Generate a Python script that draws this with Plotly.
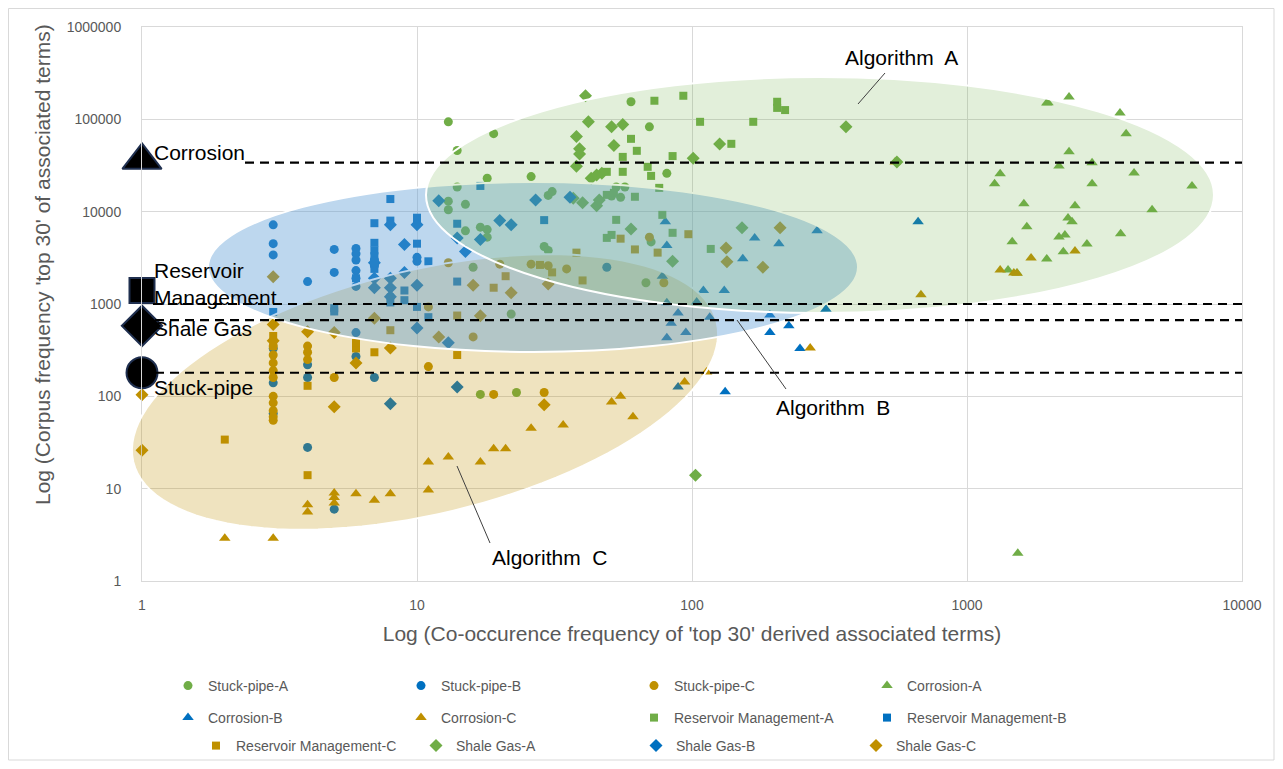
import numpy as np
import plotly.graph_objects as go

# ---------------- data ----------------
SP_A_x = [13, 19, 14, 18, 26, 14, 13, 13, 15, 15, 17, 18, 18, 30, 31, 29, 30, 16, 60, 70, 53, 57, 51, 55, 81, 71, 68, 22, 17, 23]
SP_A_y = [94000, 70000, 46000, 23000, 24000, 18500, 13000, 10500, 12000, 6200, 6800, 6400, 5300, 15000, 16500, 4200, 3800, 2500, 155000, 83000, 18500, 18500, 14800, 14300, 26000, 4700, 1700, 780, 105, 110]

SP_B_x = [3, 3, 3, 4, 5, 5, 6, 6, 6, 6, 6, 6, 7, 7, 10, 3, 3, 4, 4, 4, 5, 6, 6, 7, 49, 10, 8, 3]
SP_B_y = [7200, 4500, 3400, 1750, 3900, 2200, 4000, 3500, 3000, 2300, 1900, 1550, 3000, 2600, 2900, 140, 65, 220, 160, 28, 6, 270, 490, 160, 2500, 3200, 1200, 330]

SP_C_x = [70, 79, 13, 20, 26, 30, 35, 11, 16, 11, 19, 29, 5, 3, 3, 3, 3, 3, 3, 3, 3, 3, 3, 4, 4, 4]
SP_C_y = [5300, 1700, 2800, 2700, 2700, 2600, 2400, 930, 440, 210, 105, 110, 160, 350, 280, 230, 190, 160, 100, 85, 70, 60, 55, 350, 300, 250]

CO_A_x = [1970, 1950, 2350, 3600, 3790, 2350, 2160, 2850, 1320, 1260, 4050, 2850, 6580, 1610, 2470, 4710, 2330, 2410, 1650, 3620, 1460, 2160, 2270, 2730, 2240, 1950, 1410, 1520, 1530]
CO_A_y = [151000, 150000, 175000, 117000, 70000, 44500, 31300, 33800, 25700, 20000, 26300, 20000, 19000, 12200, 11600, 10500, 8550, 7760, 6850, 5750, 4710, 5330, 5600, 4470, 3670, 3080, 2340, 2170, 2]

CO_B_x = [664, 80, 81, 169, 207, 285, 153, 110, 131, 78, 81, 89, 104, 84, 81, 95, 116, 192, 225, 192, 247, 307, 89, 132]
CO_B_y = [7800, 7800, 4300, 5200, 4500, 6200, 3100, 1400, 1400, 2000, 1030, 800, 1050, 620, 430, 490, 720, 760, 580, 490, 330, 880, 126, 112]

CO_C_x = [548, 680, 1710, 2470, 1320, 1480, 1520, 269, 113, 94, 55, 51, 61, 26, 34, 19, 21, 17, 13, 11, 11, 8, 7, 6, 5, 5, 5, 4, 4, 2, 3]
CO_C_y = [34600, 1260, 3150, 3760, 2340, 2170, 2150, 334, 184, 143, 100, 87, 60, 45, 49, 27, 27, 19.5, 22, 19.5, 9.7, 8.8, 7.5, 8.8, 9, 8, 7, 6.7, 5.6, 2.9, 2.9]

RM_A_x = [73, 93, 107, 167, 204, 204, 218, 139, 60, 63, 56, 85, 69, 71, 56, 49, 76, 62, 49, 52, 53, 78, 85, 49, 51, 117]
RM_A_y = [159000, 180000, 94000, 94000, 155000, 133000, 126000, 54300, 61500, 45600, 39200, 40000, 30600, 24400, 27000, 27000, 18100, 14500, 15200, 16000, 8150, 9230, 5900, 5200, 5600, 3950]

RM_B_x = [8, 17, 10, 14, 10, 11, 29, 7, 7, 7, 7, 7, 7, 10, 6, 9, 9, 8, 5, 10, 11, 14, 3, 5, 8]
RM_B_y = [13700, 19000, 8600, 7400, 4500, 2900, 8100, 7500, 4600, 3800, 3300, 2800, 2400, 8000, 1900, 1400, 1100, 1040, 900, 930, 720, 1750, 820, 830, 8000]

RM_C_x = [38, 55, 62, 75, 97, 28, 31, 21, 19, 40, 14, 14, 6, 7, 4, 2, 4, 8, 6, 3, 3]
RM_C_y = [3600, 5100, 3900, 3600, 5700, 2650, 2200, 2000, 1500, 1800, 750, 280, 330, 300, 130, 34, 14, 520, 380, 450, 350]

SG_A_x = [41, 42, 51, 56, 38, 52, 39, 39, 38, 126, 101, 43, 47, 45, 40, 37, 45, 46, 60, 85, 152, 556, 363, 103]
SG_A_y = [180000, 94000, 83000, 88000, 65000, 52000, 48000, 42000, 31000, 54000, 38000, 23000, 26000, 25000, 12500, 14000, 11600, 13400, 6500, 2900, 6700, 34600, 83000, 14]

SG_B_x = [12, 8, 10, 9, 14, 17, 20, 22, 27, 36, 15, 7, 7, 8, 8, 10, 10, 8, 14, 13, 8, 7, 9]
SG_B_y = [13100, 7200, 7200, 4400, 5200, 5000, 8000, 7200, 13400, 14300, 3700, 1900, 1500, 1900, 1500, 1600, 550, 1200, 126, 380, 83, 2800, 2200]

SG_C_x = [133, 134, 16, 22, 30, 209, 181, 17, 12, 29, 3, 4, 5, 8, 5, 6, 1, 1, 3, 3, 7]
SG_C_y = [4050, 2860, 1600, 1320, 1650, 6700, 2500, 745, 440, 81, 1970, 500, 490, 334, 77, 230, 104, 26, 600, 400, 700]

# topic reference markers and reference lines (corpus frequency of topic terms)
TOPICS = ["Corrosion", "Reservoir Management", "Shale Gas", "Stuck-pipe"]
TOPIC_MARK_Y = [36000, 1400, 580, 180]
REF_LINE_Y = [34000, 1000, 670, 180]

X_TICKS = [1, 10, 100, 1000, 10000]
Y_TICKS = [1, 10, 100, 1000, 10000, 100000, 1000000]

# ---------------- style ----------------
GREEN = "#70AD47"
BLUE = "#0070C0"
GOLD = "#BF9000"
GRID = "#d9d9d9"
TXT = "#595959"
FONT = "Liberation Sans, Arial, sans-serif"

series = [
    ("Stuck-pipe-A", SP_A_x, SP_A_y, "circle", GREEN, "legend"),
    ("Stuck-pipe-B", SP_B_x, SP_B_y, "circle", BLUE, "legend"),
    ("Stuck-pipe-C", SP_C_x, SP_C_y, "circle", GOLD, "legend"),
    ("Corrosion-A", CO_A_x, CO_A_y, "triangle-up", GREEN, "legend"),
    ("Corrosion-B", CO_B_x, CO_B_y, "triangle-up", BLUE, "legend2"),
    ("Corrosion-C", CO_C_x, CO_C_y, "triangle-up", GOLD, "legend2"),
    ("Reservoir Management-A", RM_A_x, RM_A_y, "square", GREEN, "legend2"),
    ("Reservoir Management-B", RM_B_x, RM_B_y, "square", BLUE, "legend2"),
    ("Reservoir Management-C", RM_C_x, RM_C_y, "square", GOLD, "legend3"),
    ("Shale Gas-A", SG_A_x, SG_A_y, "diamond", GREEN, "legend3"),
    ("Shale Gas-B", SG_B_x, SG_B_y, "diamond", BLUE, "legend3"),
    ("Shale Gas-C", SG_C_x, SG_C_y, "diamond", GOLD, "legend3"),
]
SIZES = {"circle": 9, "triangle-up": 10, "square": 8, "diamond": 10}

fig = go.Figure()
for name, xs, ys, sym, col, leg in series:
    fig.add_trace(go.Scatter(
        x=xs, y=ys, mode="markers", name=name, legend=leg,
        marker=dict(symbol=sym, size=SIZES[sym], color=col, opacity=1, line=dict(width=0)),
        cliponaxis=False,
    ))

# big topic markers at x = 1
big_syms = ["triangle-up", "square", "diamond", "circle"]
big_sizes = [34, 25, 31, 31]
fig.add_trace(go.Scatter(
    x=[1] * len(TOPICS), y=TOPIC_MARK_Y, mode="markers", showlegend=False,
    marker=dict(symbol=big_syms, size=big_sizes, color="black", opacity=1,
                line=dict(width=2, color="#1f2f4f")),
    cliponaxis=False, hoverinfo="skip",
))

# ---------------- geometry helpers (page pixel -> paper) ----------------
OFF = 8                      # default page body margin
FW, FH = 1283 - 2 * OFF, 769 - 2 * OFF
PL, PR, PT, PB = 142, 1242, 27, 581   # plot area in page pixels
PW, PH = PR - PL, PB - PT


def px(xp):
    return (xp - PL) / PW


def py(yp):
    return (PB - yp) / PH


shapes = []

# Algorithm C: tilted ellipse (drawn first, lowest)
cx, cy, a, b, ang = 425, 392, 300, 122, np.deg2rad(13.5)
t = np.linspace(0, 2 * np.pi, 121)
ux, uy = np.cos(ang), -np.sin(ang)
nx, ny = np.sin(ang), np.cos(ang)
X = cx + a * np.cos(t) * ux + b * np.sin(t) * nx
Y = cy + a * np.cos(t) * uy + b * np.sin(t) * ny
path = "M " + " L ".join(f"{px(xx):.5f},{py(yy):.5f}" for xx, yy in zip(X, Y)) + " Z"
shapes.append(dict(type="path", path=path, xref="paper", yref="paper", layer="above",
                   fillcolor="rgba(191,144,0,0.25)", line=dict(color="white", width=2)))

# Algorithm B
shapes.append(dict(type="circle", xref="paper", yref="paper", layer="above",
                   x0=px(208), x1=px(858), y0=py(352), y1=py(182),
                   fillcolor="rgba(91,155,213,0.4)", line=dict(color="white", width=2)))
# Algorithm A
shapes.append(dict(type="circle", xref="paper", yref="paper", layer="above",
                   x0=px(426), x1=px(1214), y0=py(313), y1=py(77),
                   fillcolor="rgba(112,173,71,0.2)", line=dict(color="white", width=2)))

# dashed reference lines
line_starts = [245, 153, 155, 155]
for yv, xs0 in zip(REF_LINE_Y, line_starts):
    shapes.append(dict(type="line", xref="paper", yref="y", layer="above",
                       x0=px(xs0), x1=1, y0=yv, y1=yv,
                       line=dict(color="black", width=2.2, dash="9px,6px")))

# leader lines
for (x0, y0, x1, y1) in [(885, 73, 858, 104), (737, 320, 786, 389), (457, 466, 490, 543)]:
    shapes.append(dict(type="line", xref="paper", yref="paper", layer="above",
                       x0=px(x0), y0=py(y0), x1=px(x1), y1=py(y1),
                       line=dict(color="#404040", width=1)))

# outer chart border
shapes.append(dict(type="rect", xref="paper", yref="paper", layer="below",
                   x0=px(8.5), x1=px(1274), y0=py(760), y1=py(8.5),
                   line=dict(color=GRID, width=1), fillcolor="rgba(0,0,0,0)"))

annotations = []


def label(text, xl, yc, size=21, color="black"):
    annotations.append(dict(text=text, x=px(xl), y=py(yc), xref="paper", yref="paper",
                            xanchor="left", yanchor="middle", showarrow=False,
                            font=dict(family=FONT, size=size, color=color), align="left"))


label(TOPICS[0], 152, 152)
label("Reservoir<br>Management", 152, 284)
label(TOPICS[2], 152, 328)
label(TOPICS[3], 152, 387)
label("Algorithm\u00a0 A", 843, 57)
label("Algorithm\u00a0 B", 774, 407)
label("Algorithm\u00a0 C", 490, 557)

annotations.append(dict(text="Log (Corpus frequency 'top 30' of associated terms)",
                        x=px(42), y=py(265), xref="paper", yref="paper",
                        xanchor="center", yanchor="middle", textangle=-90, showarrow=False,
                        font=dict(family=FONT, size=21, color=TXT)))

leg_common = dict(orientation="h", xanchor="left", yanchor="middle", entrywidthmode="pixels",
                  font=dict(family=FONT, size=14, color=TXT), bgcolor="rgba(0,0,0,0)",
                  itemwidth=30, traceorder="normal")

fig.update_layout(
    width=FW, height=FH,
    margin=dict(l=PL - OFF, r=FW - (PR - OFF), t=PT - OFF, b=FH - (PB - OFF), autoexpand=False),
    paper_bgcolor="white", plot_bgcolor="white",
    font=dict(family=FONT, color=TXT),
    shapes=shapes, annotations=annotations,
    showlegend=True,
    legend=dict(leg_common, x=px(168), y=py(686), entrywidth=188),
    legend2=dict(leg_common, x=px(168), y=py(718), entrywidth=188),
    legend3=dict(leg_common, x=px(196), y=py(746), entrywidth=175),
    xaxis=dict(type="log", range=[0, 4], tickvals=X_TICKS, ticktext=[str(v) for v in X_TICKS],
               showgrid=True, gridcolor=GRID, gridwidth=1, zeroline=False,
               showline=True, linecolor=GRID, mirror=True, ticks="",
               tickfont=dict(family=FONT, size=14, color=TXT), ticklabelstandoff=11,
               title=dict(text="Log (Co-occurence frequency of 'top 30' derived associated terms)",
                          font=dict(family=FONT, size=21, color=TXT), standoff=14)),
    yaxis=dict(type="log", range=[0, 6], tickvals=Y_TICKS, ticktext=[str(v) for v in Y_TICKS],
               showgrid=True, gridcolor=GRID, gridwidth=1, zeroline=False,
               showline=True, linecolor=GRID, mirror=True, ticks="",
               tickfont=dict(family=FONT, size=14, color=TXT), ticklabelstandoff=17,
               title=dict(text="")),
)

fig.write_html("out.html")
